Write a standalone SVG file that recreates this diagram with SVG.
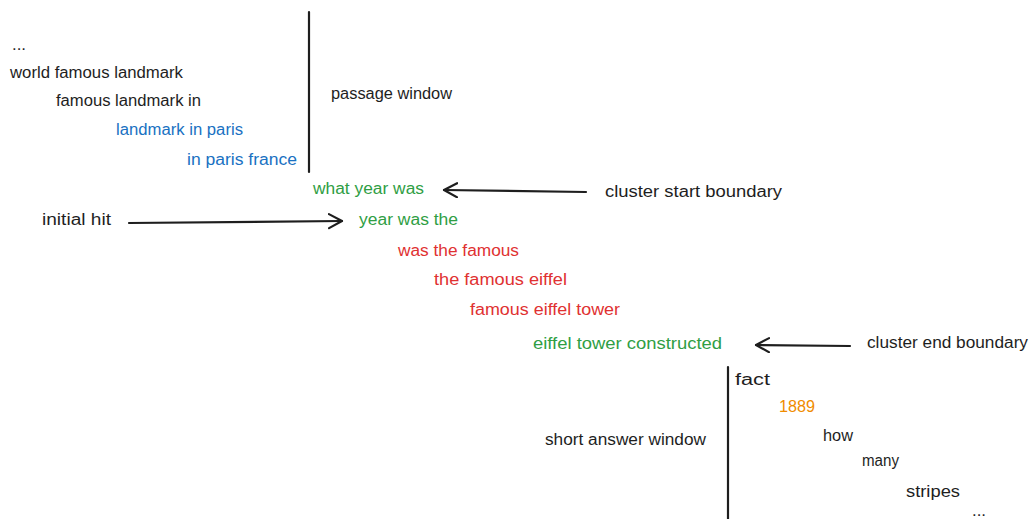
<svg xmlns="http://www.w3.org/2000/svg" width="1030" height="519" viewBox="0 0 1030 519">
<style>
text{font-family:"Liberation Sans","DejaVu Sans",sans-serif;font-size:16px;fill:#1e1e1e}
.b{fill:#1971c2}.g{fill:#2f9e44}.r{fill:#e03131}.o{fill:#f08c00}
.ln{stroke:#1e1e1e;stroke-width:2.2;fill:none;stroke-linecap:round}
</style>
<defs>
<marker id="ah" markerWidth="20" markerHeight="20" refX="14" refY="8" orient="auto" markerUnits="userSpaceOnUse">
<path d="M1,1 L14,8 L1,15" fill="none" stroke="#1e1e1e" stroke-width="2.2" stroke-linecap="round" stroke-linejoin="round"/>
</marker>
</defs>
<rect width="1030" height="519" fill="#ffffff"/>
<g id="connectors">
<line class="ln" x1="309" y1="12" x2="309" y2="172"/>
<line class="ln" x1="728" y1="367" x2="728" y2="519"/>
<line class="ln" x1="586" y1="192" x2="444" y2="190" marker-end="url(#ah)"/>
<line class="ln" x1="129" y1="223" x2="342" y2="221" marker-end="url(#ah)"/>
<line class="ln" x1="850" y1="346" x2="756" y2="345" marker-end="url(#ah)"/>
</g>
<g id="passage">
<text x="12" y="50" textLength="14" lengthAdjust="spacingAndGlyphs">...</text>
<text x="10" y="78" textLength="173" lengthAdjust="spacingAndGlyphs">world famous landmark</text>
<text x="56" y="106" textLength="145" lengthAdjust="spacingAndGlyphs">famous landmark in</text>
<text class="b" x="116" y="135" textLength="127" lengthAdjust="spacingAndGlyphs">landmark in paris</text>
<text class="b" x="187" y="165" textLength="110" lengthAdjust="spacingAndGlyphs">in paris france</text>
</g>
<g id="passage-window"><text x="331" y="99" textLength="121" lengthAdjust="spacingAndGlyphs">passage window</text></g>
<g id="cluster">
<text class="g" x="313" y="194" textLength="111" lengthAdjust="spacingAndGlyphs">what year was</text>
<text class="g" x="359" y="225" textLength="99" lengthAdjust="spacingAndGlyphs">year was the</text>
<text class="r" x="398" y="256" textLength="121" lengthAdjust="spacingAndGlyphs">was the famous</text>
<text class="r" x="434" y="285" textLength="133" lengthAdjust="spacingAndGlyphs">the famous eiffel</text>
<text class="r" x="470" y="315" textLength="150" lengthAdjust="spacingAndGlyphs">famous eiffel tower</text>
<text class="g" x="533" y="349" textLength="189" lengthAdjust="spacingAndGlyphs">eiffel tower constructed</text>
</g>
<g id="cluster-start"><text x="605" y="197" textLength="177" lengthAdjust="spacingAndGlyphs">cluster start boundary</text></g>
<g id="initial-hit"><text x="42" y="225" textLength="69" lengthAdjust="spacingAndGlyphs">initial hit</text></g>
<g id="cluster-end"><text x="867" y="348" textLength="161" lengthAdjust="spacingAndGlyphs">cluster end boundary</text></g>
<g id="short-answer-window"><text x="545" y="445" textLength="161" lengthAdjust="spacingAndGlyphs">short answer window</text></g>
<g id="answer">
<text x="735" y="385" textLength="35" lengthAdjust="spacingAndGlyphs">fact</text>
<text class="o" x="779" y="412" textLength="36" lengthAdjust="spacingAndGlyphs">1889</text>
<text x="823" y="441" textLength="30" lengthAdjust="spacingAndGlyphs">how</text>
<text x="862" y="466" textLength="37" lengthAdjust="spacingAndGlyphs">many</text>
<text x="906" y="497" textLength="54" lengthAdjust="spacingAndGlyphs">stripes</text>
<text x="972" y="516" textLength="14" lengthAdjust="spacingAndGlyphs">...</text>
</g>
</svg>
